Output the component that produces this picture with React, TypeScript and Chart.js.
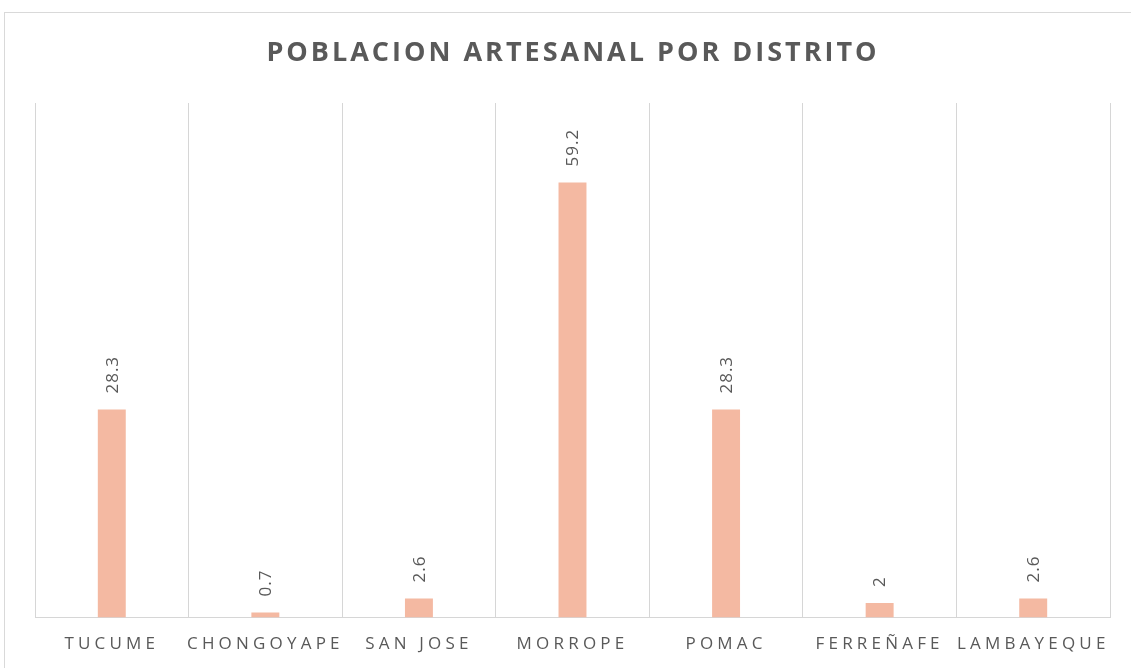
import React, { useEffect, useRef } from "react";
import { Chart, registerables } from "chart.js";

Chart.register(...registerables);

const TITLE = "POBLACION ARTESANAL POR DISTRITO";
const CATEGORIES = ["TUCUME", "CHONGOYAPE", "SAN JOSE", "MORROPE", "POMAC", "FERREÑAFE", "LAMBAYEQUE"];
const VALUES = [28.3, 0.7, 2.6, 59.2, 28.3, 2, 2.6];
const LABELS = ["28.3", "0.7", "2.6", "59.2", "28.3", "2", "2.6"];
const Y_MAX = 70;

const TEXT = "#595959";
const FONT = "'Open Sans', 'DejaVu Sans', sans-serif";

const spacingPlugin = {
  id: "spacing",
  beforeLayout(chart: any) {
    chart.ctx.letterSpacing = "4.2px";
  },
  beforeDraw(chart: any) {
    chart.ctx.letterSpacing = "4.2px";
  },
  afterDraw(chart: any) {
    const ctx = chart.ctx;
    // title
    ctx.save();
    ctx.letterSpacing = "3px";
    ctx.font = `bold 27px ${FONT}`;
    ctx.fillStyle = TEXT;
    ctx.textAlign = "center";
    ctx.textBaseline = "middle";
    ctx.fillText(TITLE, 573, 53);
    ctx.restore();
    // data labels
    const meta = chart.getDatasetMeta(0);
    meta.data.forEach((bar: any, i: number) => {
      ctx.save();
      ctx.letterSpacing = "1px";
      ctx.font = `17px ${FONT}`;
      ctx.fillStyle = TEXT;
      ctx.translate(bar.x + 1, bar.y - 16);
      ctx.rotate(-Math.PI / 2);
      ctx.textAlign = "left";
      ctx.textBaseline = "middle";
      ctx.fillText(LABELS[i], 0, 0);
      ctx.restore();
    });
  },
};

export default function App() {
  const ref = useRef<HTMLCanvasElement>(null);
  useEffect(() => {
    const chart = new Chart(ref.current!, {
      type: "bar",
      data: {
        labels: CATEGORIES,
        datasets: [
          {
            data: VALUES,
            backgroundColor: "#F4B9A2",
            borderWidth: 0,
            categoryPercentage: 1,
            barPercentage: 0.182,
          },
        ],
      },
      options: {
        animation: false,
        responsive: false,
        maintainAspectRatio: false,
        layout: { padding: { left: 35, right: 21, top: 103, bottom: -2 } },
        plugins: { legend: { display: false }, title: { display: false }, tooltip: { enabled: false } },
        scales: {
          x: {
            grid: { offset: true, color: "#D6D6D6", lineWidth: 1, drawTicks: false },
            border: { color: "#D6D6D6", width: 1 },
            ticks: { color: TEXT, font: { family: FONT, size: 17 }, padding: 16, maxRotation: 0, autoSkip: false },
          },
          y: { display: false, min: 0, max: Y_MAX },
        },
      },
      plugins: [spacingPlugin],
    });
    return () => chart.destroy();
  }, []);
  return (
    <div style={{ position: "fixed", left: 0, top: 0, width: 1131, height: 668, overflow: "hidden", background: "#fff" }}>
      <div
        style={{
          position: "absolute",
          left: 4,
          top: 12,
          width: 1160,
          height: 700,
          border: "1px solid #D9D9D9",
          boxSizing: "border-box",
        }}
      />
      <canvas ref={ref} width={1131} height={668} style={{ position: "absolute", left: 0, top: 0 }} />
    </div>
  );
}
